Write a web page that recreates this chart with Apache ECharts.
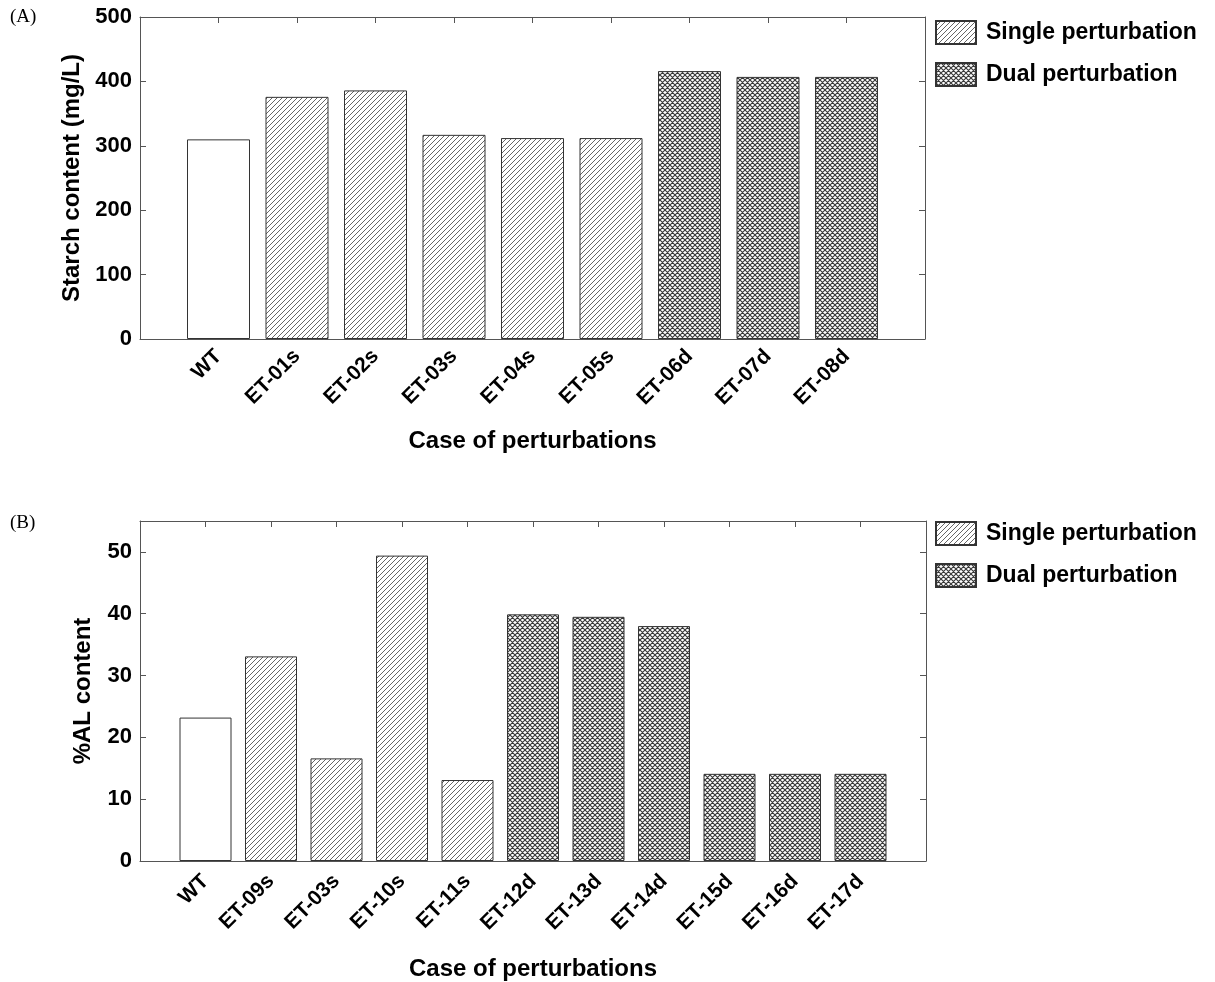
<!DOCTYPE html>
<html>
<head>
<meta charset="utf-8">
<script src="https://cdn.jsdelivr.net/npm/echarts@6/dist/echarts.min.js"></script>
<style>
html, body { margin: 0; padding: 0; background: #fff; }
#main { width: 1215px; height: 982px; }
</style>
</head>
<body>
<div id="main"></div>
<script>
// panel A: starch content
var casesA = ['WT', 'ET-01s', 'ET-02s', 'ET-03s', 'ET-04s', 'ET-05s', 'ET-06d', 'ET-07d', 'ET-08d'];
var starchA = [310, 376, 386, 317, 312, 312, 416, 407, 407];
var kindA = ['wt', 'single', 'single', 'single', 'single', 'single', 'dual', 'dual', 'dual'];
var yMaxA = 500, yStepA = 100;

// panel B: %AL content
var casesB = ['WT', 'ET-09s', 'ET-03s', 'ET-10s', 'ET-11s', 'ET-12d', 'ET-13d', 'ET-14d', 'ET-15d', 'ET-16d', 'ET-17d'];
var alB = [23.2, 33.1, 16.6, 49.4, 13.1, 39.9, 39.5, 38.0, 14.1, 14.1, 14.1];
var kindB = ['wt', 'single', 'single', 'single', 'single', 'dual', 'dual', 'dual', 'dual', 'dual', 'dual'];
var yMaxB = 55, yStepB = 10;

var FONT = 'Liberation Sans, Arial, sans-serif';
var AXIS = '#555';

function hatch(size, both, color, lw) {
    var c = document.createElement('canvas');
    c.width = c.height = size;
    var g = c.getContext('2d');
    g.fillStyle = '#fff';
    g.fillRect(0, 0, size, size);
    g.strokeStyle = color;
    g.lineWidth = lw;
    g.beginPath();
    [-size, 0, size].forEach(function (k) {
        g.moveTo(k, size); g.lineTo(k + size, 0);
        if (both) { g.moveTo(k, 0); g.lineTo(k + size, size); }
    });
    g.stroke();
    return { image: c, repeat: 'repeat' };
}

var fills = {
    wt: '#fff',
    single: hatch(5, false, '#666', 1),
    dual: hatch(5, true, '#3a3a3a', 1.15)
};
var names = { wt: 'WT', single: 'Single perturbation', dual: 'Dual perturbation' };

function pick(vals, kinds, k) {
    var out = [];
    vals.forEach(function (v, i) { if (kinds[i] === k) out.push([i + 1, v]); });
    return out;
}

function panelSeries(idx, vals, kinds, bw) {
    return ['wt', 'single', 'dual'].map(function (k) {
        return {
            type: 'bar',
            name: names[k],
            xAxisIndex: idx * 2,
            yAxisIndex: idx * 2,
            barWidth: bw,
            barGap: '-100%',
            itemStyle: { color: fills[k], borderColor: '#333', borderWidth: 1 },
            data: pick(vals, kinds, k)
        };
    });
}

var axLine = { show: true, onZero: false, lineStyle: { color: AXIS, width: 1 } };
var axTick = { show: true, inside: true, length: 6, lineStyle: { color: AXIS } };

function xAxes(idx, cats, gap, margin) {
    return [{
        type: 'value', gridIndex: idx, position: 'bottom',
        min: 0, max: cats.length + 1, interval: 1,
        axisLine: axLine, axisTick: axTick, splitLine: { show: false },
        axisLabel: {
            rotate: 45, margin: margin, color: '#000', fontFamily: FONT, fontWeight: 'bold', fontSize: 21,
            showMinLabel: false, showMaxLabel: false,
            formatter: function (v) { return cats[v - 1] || ''; }
        },
        name: 'Case of perturbations', nameLocation: 'middle', nameGap: gap,
        nameTextStyle: { color: '#000', fontFamily: FONT, fontWeight: 'bold', fontSize: 24 }
    }, {
        type: 'value', gridIndex: idx, position: 'top',
        min: 0, max: cats.length + 1, interval: 1,
        axisLine: axLine, axisTick: axTick, splitLine: { show: false },
        axisLabel: { show: false }
    }];
}

function yAxes(idx, max, step, title, gap) {
    return [{
        type: 'value', gridIndex: idx, position: 'left',
        min: 0, max: max, interval: step,
        axisLine: axLine, axisTick: axTick, splitLine: { show: false },
        axisLabel: { color: '#000', fontFamily: FONT, fontWeight: 'bold', fontSize: 22, margin: 8, showMaxLabel: max % step === 0 },
        name: title, nameLocation: 'middle', nameGap: gap,
        nameTextStyle: { color: '#000', fontFamily: FONT, fontWeight: 'bold', fontSize: 24 }
    }, {
        type: 'value', gridIndex: idx, position: 'right',
        min: 0, max: max, interval: step,
        axisLine: axLine, axisTick: axTick, splitLine: { show: false },
        axisLabel: { show: false }
    }];
}

function legend(top) {
    return {
        data: ['Single perturbation', 'Dual perturbation'],
        orient: 'vertical', left: 935, top: top, padding: 0,
        icon: 'rect', itemWidth: 40, itemHeight: 23, itemGap: 17,
        textStyle: { color: '#000', fontFamily: FONT, fontWeight: 'bold', fontSize: 23, padding: [0, 0, 0, 5] }
    };
}

var chart = echarts.init(document.getElementById('main'), null, { renderer: 'canvas' });
chart.setOption({
    backgroundColor: '#fff',
    animation: false,
    grid: [
        { left: 140, top: 17, width: 785, height: 322 },
        { left: 140, top: 521, width: 786, height: 340 }
    ],
    legend: [legend(20), legend(521)],
    xAxis: xAxes(0, casesA, 90, 14).concat(xAxes(1, casesB, 96, 17)),
    yAxis: yAxes(0, yMaxA, yStepA, 'Starch content (mg/L)', 56).concat(yAxes(1, yMaxB, yStepB, '%AL content', 45)),
    series: panelSeries(0, starchA, kindA, 63).concat(panelSeries(1, alB, kindB, 52)),
    graphic: [
        { type: 'text', left: 10, top: 8, style: { text: '(A)', font: '19px "Liberation Serif", serif', fill: '#000' } },
        { type: 'text', left: 10, top: 514, style: { text: '(B)', font: '19px "Liberation Serif", serif', fill: '#000' } }
    ]
});
</script>
</body>
</html>
